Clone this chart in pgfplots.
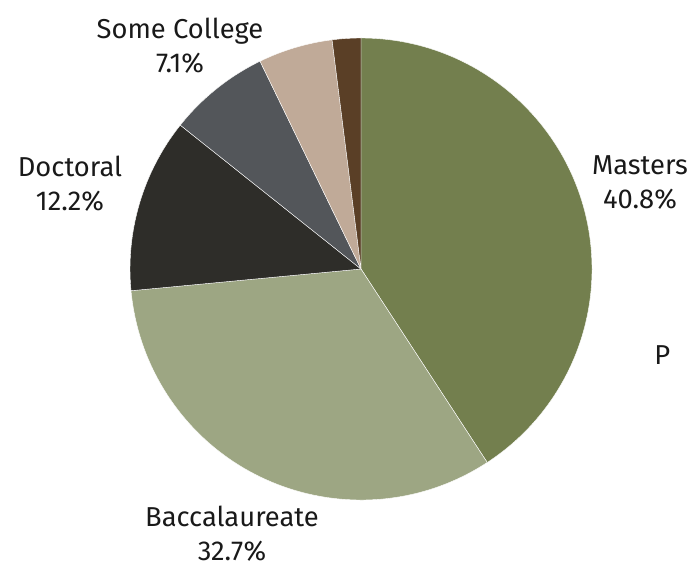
\documentclass[border=0pt]{standalone}
\usepackage{pgfplots}
\usepackage{pgfplotstable}
\usepackage{fontspec}
\setmainfont{Fira Sans}
\pgfplotsset{compat=1.18}
\definecolor{c0}{HTML}{737F4E}
\definecolor{c1}{HTML}{9DA683}
\definecolor{c2}{HTML}{2E2D29}
\definecolor{c3}{HTML}{53565A}
\definecolor{c4}{HTML}{C0AA98}
\definecolor{c5}{HTML}{5A3F26}

% share of each slice, clockwise from 12 o'clock
\pgfplotstableread{
value
40.8
32.7
12.2
7.1
5.2
2.0
}\slices
\pgfplotstablecreatecol[create col/expr accum={\pgfmathaccuma + \thisrow{value}}{0}]{cum}\slices

\begin{document}
\begin{tikzpicture}
\def\R{173.25pt}
\begin{axis}[
    width=525pt, height=426pt, scale only axis,
    xmin=0, xmax=700, ymin=0, ymax=568,
    hide axis, clip=false,
]
\path (axis cs:0,0) rectangle (axis cs:700,568);
\pgfplotsinvokeforeach{0,...,5}{
  \pgfplotstablegetelem{#1}{value}\of\slices \let\v\pgfplotsretval
  \pgfplotstablegetelem{#1}{cum}\of\slices \let\c\pgfplotsretval
  \pgfmathsetmacro\a{90-3.6*(\c-\v)}
  \pgfmathsetmacro\b{90-3.6*\c}
  \edef\tmp{\noexpand\fill[c#1, draw=white, line width=0.3pt] (axis cs:361,299) -- ++(\a:\R) arc[start angle=\a, end angle=\b, radius=\R] -- cycle;}
  \tmp
}
\tikzset{lbl/.style={align=center, text=black!90, inner sep=0pt, font=\fontsize{20.5}{25.5}\selectfont}}
\node[lbl] at (axis cs:180,522) {Some College\\7.1\%};
\node[lbl] at (axis cs:70,384) {Doctoral\\12.2\%};
\node[lbl] at (axis cs:640,385) {Masters\\40.8\%};
\node[lbl] at (axis cs:232,34) {Baccalaureate\\32.7\%};
\node[lbl, anchor=west] at (axis cs:654,213) {P};
\end{axis}
\end{tikzpicture}
\end{document}
